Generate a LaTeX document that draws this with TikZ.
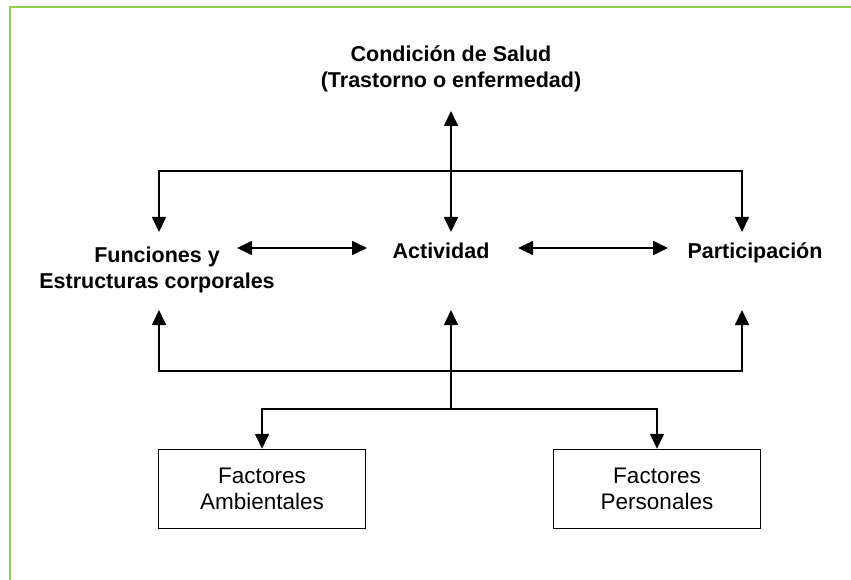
\documentclass[tikz,border=0pt]{standalone}
\usepackage{fontspec}
\setmainfont{Liberation Sans}
\usetikzlibrary{arrows.meta}
\definecolor{marco}{RGB}{146,208,80}
\tikzset{
    punta/.tip={Triangle[width=14pt,length=15pt]},
    linea/.style={line width=1.7pt},
    flecha/.style={linea,-punta},
    dflecha/.style={linea,punta-punta},
    etiqueta/.style={font=\fontsize{21.5}{26}\selectfont\bfseries,align=center,inner sep=0pt},
    caja/.style={draw,line width=1.5pt,minimum width=207pt,minimum height=79pt,align=center,
        inner sep=0pt,font=\fontsize{22.5}{25.5}\selectfont},
}
\begin{document}
\begin{tikzpicture}[x=1pt,y=-1pt]
            \useasboundingbox (0,0) rectangle (851,580);
            \draw [marco,line width=2pt] (10,580) -- (10,7.5) -- (851,7.5);

            % textos
            \node [etiqueta] (salud) at (451,69) {Condición de Salud\\(Trastorno o enfermedad)};
            \node [etiqueta] (funciones) at (157,270) {Funciones y\\Estructuras corporales};
            \node [etiqueta,anchor=base] (actividad) at (441,258) {Actividad};
            \node [etiqueta,anchor=base] (participacion) at (755,258) {Participación};
            \node [caja] (ambientales) at (262,489) {Factores\\Ambientales};
            \node [caja] (personales) at (657,489) {Factores\\Personales};

            % puntos de las flechas
            \coordinate (sa) at (451,111);
            \coordinate (tj) at (451,171);
            \coordinate (fa) at (159,232);
            \coordinate (aa) at (451,232);
            \coordinate (pa) at (742,232);
            \coordinate (fb) at (159,310);
            \coordinate (ab) at (451,310);
            \coordinate (pb) at (742,310);
            \coordinate (bj) at (451,371);
            \coordinate (cj) at (451,409);
            \coordinate (fd) at (237,248);
            \coordinate (ai) at (367,248);
            \coordinate (ad) at (518,248);
            \coordinate (pi) at (668,248);

            \draw [dflecha] (sa) -- (aa);
            \draw [dflecha] (fa) |- (tj) -| (pa);
            \draw [dflecha] (fd) -- (ai);
            \draw [dflecha] (ad) -- (pi);
            \draw [dflecha] (fb) |- (bj) -| (pb);
            \draw [flecha] (cj) -- (ab);
            \draw [dflecha] (ambientales.north) |- (cj) -| (personales.north);
        \end{tikzpicture}
\end{document}
